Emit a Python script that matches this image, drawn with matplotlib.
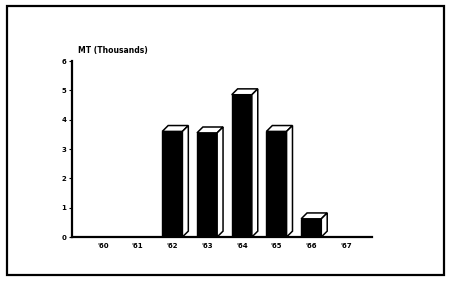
import matplotlib
matplotlib.use("Agg")
import matplotlib.pyplot as plt
from matplotlib.patches import Polygon, Rectangle

years = ["'60", "'61", "'62", "'63", "'64", "'65", "'66", "'67"]
values = [0, 0, 3.6, 3.55, 4.85, 3.6, 0.62, 0]
yticks = [0, 1, 2, 3, 4, 5, 6]

fig = plt.figure(figsize=(4.5, 2.81), dpi=100)
fig.patch.set_facecolor("white")
ax = fig.add_axes([72/450, 44/281, 300/450, 176/281])

width = 0.58
dx, dy = 0.17, 0.2
x = list(range(len(years)))
for xi, v in zip(x, values):
    if v <= 0:
        continue
    ax.bar(xi, v, width=width, color="black", edgecolor="black", linewidth=1, zorder=3)
    l, r = xi - width/2, xi + width/2
    top = Polygon([(l, v), (r, v), (r + dx, v + dy), (l + dx, v + dy)], closed=True,
                  facecolor="white", edgecolor="black", linewidth=1.1, zorder=4)
    side = Polygon([(r, 0), (r + dx, dy), (r + dx, v + dy), (r, v)], closed=True,
                   facecolor="white", edgecolor="black", linewidth=1.1, zorder=4)
    ax.add_patch(top)
    ax.add_patch(side)

ax.set_xlim(-0.89, 7.75)
ax.set_ylim(0, 6)
ax.set_yticks(yticks)
ax.set_yticklabels([str(t) for t in yticks], fontsize=5, fontweight="bold")
ax.set_xticks(x)
ax.set_xticklabels(years, fontsize=5, fontweight="bold")
ax.tick_params(axis="x", length=0, pad=4)
ax.tick_params(axis="y", length=2, width=0.8, pad=2)
for s in ["top", "right"]:
    ax.spines[s].set_visible(False)
ax.spines["left"].set_linewidth(1.6)
ax.spines["bottom"].set_linewidth(1.6)
ax.set_facecolor("none")

fig.text(78/450, 1 - 50/281, "MT (Thousands)", fontsize=5.5, fontweight="bold",
         ha="left", va="center")

frame = Rectangle((7/450, 6/281), 437/450, 269/281, transform=fig.transFigure,
                  fill=False, edgecolor="black", linewidth=1.6)
fig.patches.append(frame)

fig.savefig("out.png", dpi=100)
